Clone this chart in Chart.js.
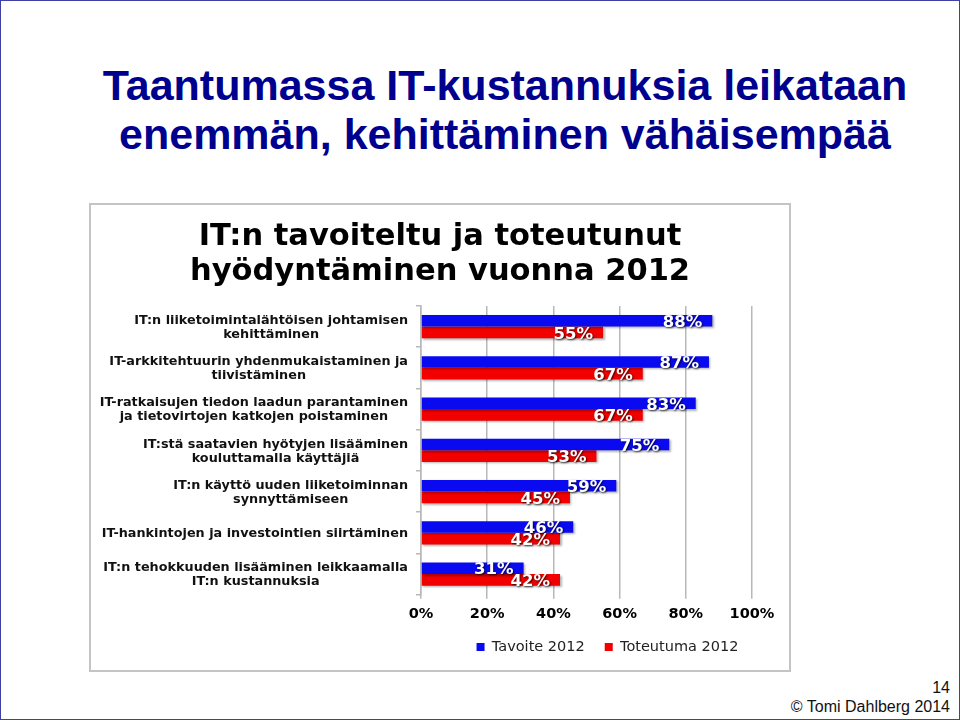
<!DOCTYPE html>
<html>
<head>
<meta charset="utf-8">
<script src="https://cdn.jsdelivr.net/npm/chart.js@4.4.0/dist/chart.umd.min.js"></script>
<style>
  html, body { margin: 0; padding: 0; background: #fff; }
  .slide {
    position: relative; width: 960px; height: 720px; box-sizing: border-box;
    border: 1px solid #3f3fa6; overflow: hidden; font-family: "Liberation Sans", Arial, sans-serif;
  }
  .slide h1 {
    position: absolute; left: 24px; top: 60px; width: 960px; margin: 0;
    text-align: center; color: #00008f; font-size: 43px; line-height: 49px; font-weight: bold;
  }
  .chart-box {
    position: absolute; left: 88px; top: 202px; width: 698px; height: 465px;
    border: 2px solid #c4c4c4;
  }
  .footer {
    position: absolute; right: 9px; top: 677px; text-align: right;
    font-size: 16px; line-height: 19px; color: #111;
  }
</style>
</head>
<body>
<div class="slide">
  <h1>Taantumassa IT-kustannuksia leikataan<br>enemmän, kehittäminen vähäisempää</h1>
  <div class="chart-box"><canvas id="itChart" width="698" height="465"></canvas></div>
  <div class="footer">14<br>© Tomi Dahlberg 2014</div>
</div>

<script>
// --- data ---
const categories = [
    ['IT:n liiketoimintalähtöisen johtamisen', 'kehittäminen'],
    ['IT-arkkitehtuurin yhdenmukaistaminen ja', 'tiivistäminen'],
    ['IT-ratkaisujen tiedon laadun parantaminen', 'ja tietovirtojen katkojen poistaminen'],
    ['IT:stä saatavien hyötyjen lisääminen', 'kouluttamalla käyttäjiä'],
    ['IT:n käyttö uuden liiketoiminnan', 'synnyttämiseen'],
    ['IT-hankintojen ja investointien siirtäminen'],
    ['IT:n tehokkuuden lisääminen leikkaamalla', 'IT:n kustannuksia']
];
const tavoite2012 = [88, 87, 83, 75, 59, 46, 31];
const toteutuma2012 = [55, 67, 67, 53, 45, 42, 42];
const seriesNames = ['Tavoite 2012', 'Toteutuma 2012'];
const xTicks = [0, 20, 40, 60, 80, 100];

const BOLD = '"DejaVu Sans", Verdana, sans-serif';

// category labels: block right-aligned, each line centered inside the block
const categoryLabels = {
    id: 'categoryLabels',
    afterDraw(chart) {
        const ctx = chart.ctx;
        const y = chart.scales.y;
        const right = chart.chartArea.left - 13;
        const lh = 14;
        ctx.save();
        ctx.font = 'bold 12.8px ' + BOLD;
        ctx.fillStyle = '#111';
        ctx.textAlign = 'center';
        ctx.textBaseline = 'middle';
        chart.data.labels.forEach((lines, i) => {
            const w = Math.max(...lines.map(l => ctx.measureText(l).width));
            const cx = right - w / 2;
            const cy = y.getPixelForValue(i) + 1;
            lines.forEach((l, k) => {
                ctx.fillText(l, cx, cy + (k - (lines.length - 1) / 2) * lh);
            });
        });
        ctx.restore();
    }
};

// white value labels with a dark shadow, right end of each bar
const valueLabels = {
    id: 'valueLabels',
    afterDatasetsDraw(chart) {
        const ctx = chart.ctx;
        ctx.save();
        ctx.font = 'bold 16.5px ' + BOLD;
        ctx.fillStyle = '#fff';
        ctx.textAlign = 'right';
        ctx.textBaseline = 'middle';
        ctx.shadowColor = 'rgba(0,0,0,0.75)';
        ctx.shadowOffsetX = 1;
        ctx.shadowOffsetY = 1;
        ctx.shadowBlur = 2;
        chart.data.datasets.forEach((ds, di) => {
            chart.getDatasetMeta(di).data.forEach((bar, i) => {
                ctx.fillText(ds.data[i] + '%', bar.x - 10, bar.y + 2);
            });
        });
        ctx.restore();
    }
};

// soft shadow under bars
const barShadow = {
    id: 'barShadow',
    beforeDatasetsDraw(chart) {
        const ctx = chart.ctx;
        ctx.save();
        ctx.shadowColor = 'rgba(0,0,0,0.3)';
        ctx.shadowOffsetX = 1.5;
        ctx.shadowOffsetY = 1.5;
        ctx.shadowBlur = 2;
    },
    afterDatasetsDraw(chart) {
        chart.ctx.restore();
    }
};

// legend sits right of the canvas center and a little higher in the original
const legendShift = {
    id: 'legendShift',
    afterLayout(chart) {
        const l = chart.legend;
        const lab = l.options.labels;
        const dx = (chart.chartArea.left + chart.chartArea.right) / 2 + 21 - (l.left + l.right) / 2;
        const dy = 442 - (l.top + lab.padding + lab.font.size / 2);
        l.left += dx; l.right += dx;
        l.top += dy; l.bottom += dy;
    }
};

new Chart(document.getElementById('itChart'), {
    type: 'bar',
    data: {
        labels: categories,
        datasets: [
            { label: seriesNames[0], data: tavoite2012, backgroundColor: '#0a0af0' },
            { label: seriesNames[1], data: toteutuma2012, backgroundColor: '#f20000' }
        ]
    },
    options: {
        indexAxis: 'y',
        responsive: false,
        animation: false,
        barPercentage: 1,
        categoryPercentage: 0.565,
        layout: { padding: { left: 0, right: 0, top: 0, bottom: 8 } },
        plugins: {
            title: {
                display: true,
                text: ['IT:n tavoiteltu ja toteutunut', 'hyödyntäminen vuonna 2012'],
                color: '#000',
                font: { family: BOLD, size: 30.5, weight: 'bold', lineHeight: 1.13 },
                padding: { top: 15, bottom: 17 }
            },
            legend: {
                position: 'bottom',
                maxHeight: 32,
                labels: {
                    color: '#222',
                    boxWidth: 8,
                    boxHeight: 8,
                    padding: 20,
                    font: { family: BOLD, size: 14.5 }
                }
            },
            tooltip: { enabled: false }
        },
        scales: {
            x: {
                min: 0,
                max: 100,
                // room on the right for the "100%" label, without moving the title
                afterFit(scale) { scale.paddingLeft = 0; scale.paddingRight = 37; },
                afterBuildTicks(scale) { scale.ticks = xTicks.map(v => ({ value: v })); },
                border: { display: false },
                grid: { color: '#b8b8b8', lineWidth: 1.5, tickLength: 4 },
                ticks: {
                    color: '#000',
                    padding: 9,
                    font: { family: BOLD, size: 14.5, weight: 'bold', lineHeight: 0.92 },
                    callback: v => v + '%'
                }
            },
            y: {
                afterFit(scale) { scale.width = 330; },
                border: { display: true, color: '#b8b8b8', width: 1.5 },
                grid: { drawOnChartArea: false, color: '#b8b8b8', lineWidth: 1.5, tickLength: 5 },
                ticks: { display: false }
            }
        }
    },
    plugins: [barShadow, valueLabels, categoryLabels, legendShift]
});
</script>
</body>
</html>
